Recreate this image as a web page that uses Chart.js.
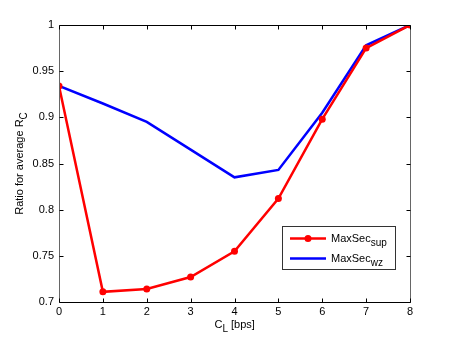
<!DOCTYPE html>
<html>
<head>
<meta charset="utf-8">
<script src="https://cdn.jsdelivr.net/npm/chart.js@4"></script>
<style>
html,body{margin:0;padding:0;background:#fff;}
#wrap{width:452px;height:340px;}
</style>
</head>
<body>
<div id="wrap"><canvas id="c" width="452" height="340"></canvas></div>
<script>
const categories = [0, 1, 2, 3, 4, 5, 6, 7, 8];
const maxSecSup = [0.934, 0.711, 0.714, 0.727, 0.755, 0.812, 0.898, 0.975, 1.0];
const maxSecWz  = [0.934, 0.915, 0.895, 0.865, 0.835, 0.843, 0.905, 0.978, 1.0];
const yTicks = [0.7, 0.75, 0.8, 0.85, 0.9, 0.95, 1];
const xTicks = [0, 1, 2, 3, 4, 5, 6, 7, 8];

const FONT = '"Liberation Sans", Arial, Helvetica, sans-serif';

function drawSubText(ctx, main, sub, x, y, size, align) {
  ctx.font = size + 'px ' + FONT;
  const w1 = ctx.measureText(main).width;
  ctx.font = (size - 1) + 'px ' + FONT;
  const w2 = ctx.measureText(sub).width;
  let start = x;
  if (align === 'center') start = x - (w1 + w2) / 2;
  ctx.textAlign = 'left';
  ctx.textBaseline = 'alphabetic';
  ctx.font = size + 'px ' + FONT;
  ctx.fillText(main, start, y);
  ctx.font = (size - 1) + 'px ' + FONT;
  ctx.fillText(sub, start + w1, y + 4);
  return w1 + w2;
}

const boxPlugin = {
  id: 'matlabBox',
  afterDraw(chart) {
    const ctx = chart.ctx;
    const a = chart.chartArea;
    const xs = chart.scales.x, ys = chart.scales.y;
    ctx.save();
    ctx.strokeStyle = '#000';
    ctx.lineWidth = 1;
    const L = Math.round(a.left) + 0.5, R = Math.round(a.right) + 0.5;
    const T = Math.round(a.top) + 0.5, B = Math.round(a.bottom) + 0.5;
    ctx.beginPath();
    ctx.moveTo(L, T); ctx.lineTo(R, T);
    ctx.moveTo(L, B); ctx.lineTo(R, B);
    ctx.stroke();
    ctx.strokeStyle = '#666';
    ctx.beginPath();
    ctx.moveTo(L, T); ctx.lineTo(L, B);
    ctx.moveTo(R, T); ctx.lineTo(R, B);
    ctx.stroke();
    ctx.strokeStyle = '#000';
    const tl = 4;
    ctx.beginPath();
    xTicks.forEach(v => {
      const px = Math.round(xs.getPixelForValue(v)) + 0.5;
      ctx.moveTo(px, B); ctx.lineTo(px, B - tl);
      ctx.moveTo(px, T); ctx.lineTo(px, T + tl);
    });
    yTicks.forEach(v => {
      const py = Math.round(ys.getPixelForValue(v)) + 0.5;
      ctx.moveTo(L, py); ctx.lineTo(L + tl, py);
      ctx.moveTo(R, py); ctx.lineTo(R - tl, py);
    });
    ctx.stroke();

    // axis titles
    ctx.fillStyle = '#000';
    const cx = a.left + (a.right - a.left) / 2 - 20;
    const w = drawSubText(ctx, 'C', 'L', cx, 328, 11, 'left');
    ctx.font = '11px ' + FONT;
    ctx.fillText(' [bps]', cx + w, 328);

    ctx.save();
    ctx.translate(23, (a.top + a.bottom) / 2);
    ctx.rotate(-Math.PI / 2);
    drawSubText(ctx, 'Ratio for average R', 'C', 0, 0, 11, 'center');
    ctx.restore();

    // legend
    const lx = 282.5, ly = 226.5, lw = 113, lh = 43;
    ctx.fillStyle = '#fff';
    ctx.fillRect(lx, ly, lw, lh);
    ctx.strokeStyle = '#333';
    ctx.lineWidth = 1;
    ctx.strokeRect(lx, ly, lw, lh);
    const items = [
      {ds: chart.data.datasets[0], sub: 'sup', y: 238.5},
      {ds: chart.data.datasets[1], sub: 'wz', y: 258.5}
    ];
    items.forEach(it => {
      ctx.strokeStyle = it.ds.borderColor;
      ctx.lineWidth = it.ds.borderWidth;
      ctx.beginPath();
      ctx.moveTo(290, it.y); ctx.lineTo(326, it.y);
      ctx.stroke();
      if (it.ds.pointRadius > 0) {
        ctx.fillStyle = it.ds.borderColor;
        ctx.beginPath();
        ctx.arc(308, it.y, it.ds.pointRadius, 0, Math.PI * 2);
        ctx.fill();
      }
      ctx.fillStyle = '#000';
      drawSubText(ctx, 'MaxSec', it.sub, 331, it.y + 3, 11, 'left');
    });
    ctx.restore();
  }
};

new Chart(document.getElementById('c'), {
  type: 'line',
  data: {
    labels: categories,
    datasets: [
      {
        label: 'MaxSec_sup',
        data: maxSecSup,
        borderColor: '#ff0000',
        backgroundColor: '#ff0000',
        borderWidth: 2.5,
        pointRadius: 3.5,
        pointBackgroundColor: '#ff0000',
        pointBorderWidth: 0,
        tension: 0,
        order: 0
      },
      {
        label: 'MaxSec_wz',
        data: maxSecWz,
        borderColor: '#0000ff',
        backgroundColor: '#0000ff',
        borderWidth: 2.5,
        pointRadius: 0,
        tension: 0,
        order: 1
      }
    ]
  },
  options: {
    responsive: false,
    animation: false,
    devicePixelRatio: 1,
    layout: { padding: { left: 0, right: 42, top: 25, bottom: 0 } },
    plugins: { legend: { display: false }, tooltip: { enabled: false } },
    scales: {
      x: {
        type: 'linear',
        min: 0, max: 8,
        afterBuildTicks(scale) { scale.ticks = xTicks.map(v => ({ value: v })); },
        afterFit(scale) { scale.height = 38; },
        grid: { display: false, drawTicks: false },
        border: { display: false },
        ticks: { color: '#000', font: { family: FONT, size: 11 }, padding: 3, maxRotation: 0 }
      },
      y: {
        min: 0.7, max: 1,
        afterBuildTicks(scale) { scale.ticks = yTicks.map(v => ({ value: v })); },
        afterFit(scale) { scale.width = 59; },
        grid: { display: false, drawTicks: false },
        border: { display: false },
        ticks: {
          color: '#000', font: { family: FONT, size: 11 }, padding: 5,
          callback: v => String(Math.round(v * 100) / 100)
        }
      }
    }
  },
  plugins: [boxPlugin]
});
</script>
</body>
</html>
